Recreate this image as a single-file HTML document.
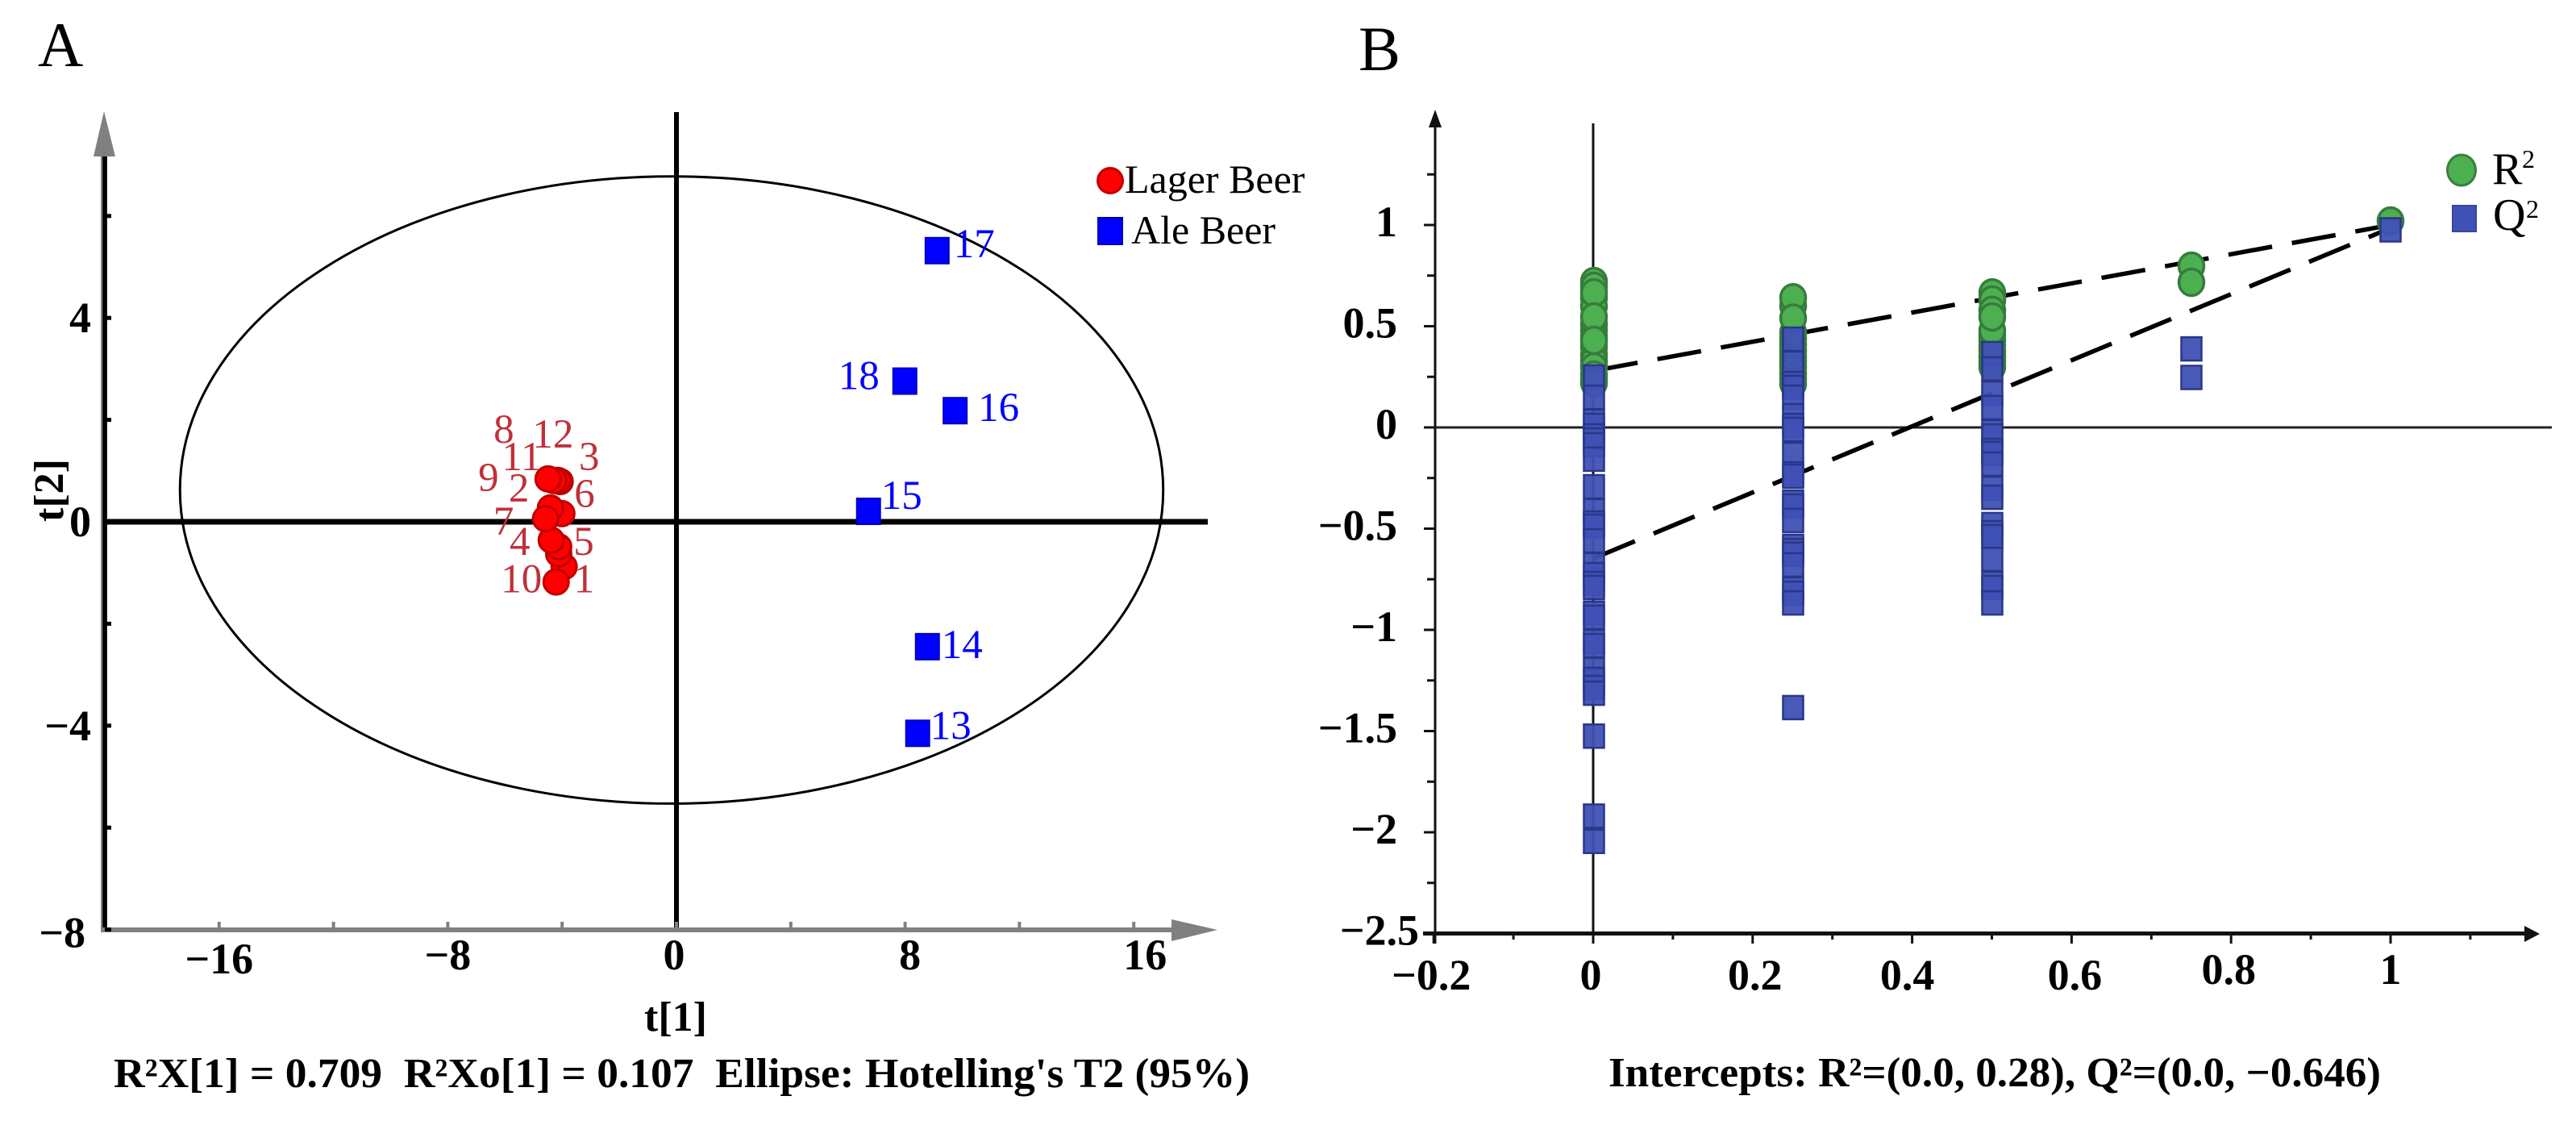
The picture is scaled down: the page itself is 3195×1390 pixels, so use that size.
<!DOCTYPE html>
<html lang="en">
<head>
<meta charset="utf-8">
<title>OPLS-DA score plot and permutation test</title>
<style>
html,body{margin:0;padding:0;background:#fff;}
svg{display:block;}
text{font-family:"Liberation Serif",serif;}
.tick{font-weight:bold;font-size:54px;fill:#000;}
.foot{font-weight:bold;font-size:52px;fill:#000;}
.leg{font-size:50px;fill:#000;}
</style>
</head>
<body>
<svg id="chart" xmlns="http://www.w3.org/2000/svg" width="3195" height="1390" viewBox="0 0 3195 1390">
  <rect width="3195" height="1390" fill="#fff"/>
  <text x="47" y="82" font-size="78">A</text>
  <text x="1685" y="87" font-size="78">B</text>

  <g id="panelA"></g>
  <g id="panelB"></g>

  <text class="foot" x="838" y="1278" text-anchor="middle">t[1]</text>
  <text class="foot" transform="translate(78,608) rotate(-90)" text-anchor="middle">t[2]</text>
  <text class="foot" x="141" y="1348" textLength="1409" lengthAdjust="spacingAndGlyphs">R²X[1] = 0.709&#160; R²Xo[1] = 0.107&#160; Ellipse: Hotelling's T2 (95%)</text>
  <text class="foot" x="1995" y="1347" textLength="958" lengthAdjust="spacingAndGlyphs">Intercepts: R²=(0.0, 0.28), Q²=(0.0, −0.646)</text>

  <g>
    <circle cx="1377" cy="224" r="15.5" fill="#f00" stroke="#c00000" stroke-width="3"/>
    <text class="leg" x="1395" y="239">Lager Beer</text>
    <rect x="1362" y="270" width="30" height="33" fill="#00f" stroke="#0000c0" stroke-width="2"/>
    <text class="leg" x="1403" y="302">Ale Beer</text>
  </g>
  <g>
    <ellipse cx="3053" cy="211" rx="17.5" ry="19" fill="#4CAF50" stroke="#388040" stroke-width="3"/>
    <text class="leg" x="3091" y="228" style="font-size:56px">R</text>
    <text x="3128" y="208" font-size="32">2</text>
    <rect x="3042" y="255" width="29" height="32" fill="#3F51B5" stroke="#3545a0" stroke-width="2"/>
    <text class="leg" x="3092" y="285" style="font-size:56px">Q</text>
    <text x="3133" y="270" font-size="32">2</text>
  </g>
</svg>
<script>
// ---- Panel A data ----
const lagerLabels = [1, 6, 5, 4, 10, 9, 2, 7, 3, 12, 11, 8];
const lagerT1 = [-3.93, -4.12, -4.12, -4.38, -4.21, -4.01, -4.41, -4.58, -4.07, -4.15, -4.29, -4.49];
const lagerT2 = [-0.88, -0.63, -0.49, -0.36, -1.18, 0.16, 0.27, 0.06, 0.79, 0.81, 0.81, 0.84];
const aleLabels = [13, 14, 15, 16, 17, 18];
const aleT1 = [8.44, 8.78, 6.72, 9.75, 9.12, 7.99];
const aleT2 = [-4.15, -2.45, 0.205, 2.18, 5.32, 2.76];
const ellipseCenter = [-0.17, 0.624];
const ellipseRadii = [17.2, 6.153];
const xTicksA = [-16, -12, -8, -4, 0, 4, 8, 12, 16];
const xTickLabelsA = [-16, -8, 0, 8, 16];
const yTicksA = [-8, -6, -4, -2, 0, 2, 4, 6];
const yTickLabelsA = [-8, -4, 0, 4];

// ---- Panel B data ----
const r2At0 = [0.721, 0.697, 0.64, 0.598, 0.51, 0.478, 0.45, 0.398, 0.359, 0.33, 0.299, 0.259, 0.235, 0.219, 0.665, 0.546, 0.430];
const r2At25 = [0.215, 0.239, 0.265, 0.30, 0.325, 0.35, 0.38, 0.41, 0.44, 0.47, 0.60, 0.641, 0.54];
const r2At50 = [0.299, 0.325, 0.35, 0.378, 0.405, 0.43, 0.455, 0.478, 0.665, 0.63, 0.578, 0.546];
const r2At75 = [0.797, 0.717];
const r2At100 = [1.02];
const q2At0 = [0.249, 0.149, 0.030, 0.010, -0.042, -0.062, -0.086, -0.157, -0.293, -0.412, -0.472, -0.488, -0.560, -0.679, -0.727, -0.771, -0.791, -0.918, -0.938, -1.058, -1.078, -1.197, -1.245, -1.285, -1.313, -1.525, -1.92, -2.045];
const q2At25 = [0.436, 0.317, 0.217, 0.197, 0.149, 0.058, 0.010, -0.010, -0.133, -0.229, -0.241, -0.369, -0.388, -0.460, -0.588, -0.608, -0.627, -0.679, -0.799, -0.819, -0.867, -1.384];
const q2At50 = [0.365, 0.289, 0.169, 0.098, -0.022, -0.042, -0.114, -0.129, -0.181, -0.301, -0.345, -0.480, -0.520, -0.540, -0.651, -0.771, -0.791, -0.867];
const q2At75 = [0.388, 0.247];
const q2At100 = [0.976];
const r2Columns = [0, 0.25, 0.5, 0.75, 1];
const r2FitEnds = [0.28, 1.0];
const q2FitEnds = [-0.646, 0.985];
const fitX = [0, 1];
const xTicksB = [-0.2, -0.1, 0, 0.1, 0.2, 0.3, 0.4, 0.5, 0.6, 0.7, 0.8, 0.9, 1, 1.1];
const xTickLabelsB = [-0.2, 0, 0.2, 0.4, 0.6, 0.8, 1];
const yTicksB = [-2.5, -2.25, -2, -1.75, -1.5, -1.25, -1, -0.75, -0.5, -0.25, 0, 0.25, 0.5, 0.75, 1, 1.25];
const yTickLabelsB = [-2.5, -2, -1.5, -1, -0.5, 0, 0.5, 1];

const NS = 'http://www.w3.org/2000/svg';
function make(parent, tag, props, txt) {
  const e = document.createElementNS(NS, tag);
  for (const k in props) e.setAttribute(k, props[k]);
  if (txt !== undefined) e.textContent = txt;
  parent.appendChild(e);
  return e;
}
function fmt(v) { return (v < 0 ? '\u2212' : '') + Math.abs(v); }

// ---- axis functions ----
const xA = v => 839 + 35.45 * v;
const yA = v => 647 - 63.2 * v;
const xB = v => 1977 + 988 * v;
const yB = v => 530 - 251 * v;

function drawPanelA() {
  const g = document.getElementById('panelA');
  const ell = make(g, 'ellipse', {cx: xA(ellipseCenter[0]), cy: yA(ellipseCenter[1]), rx: 35.45 * ellipseRadii[0], ry: 63.2 * ellipseRadii[1], fill: 'none', stroke: '#000', 'stroke-width': 3});
  
  

  const h0 = make(g, 'line', {x1: 131, x2: 1498, y1: yA(0), y2: yA(0), stroke: '#000', 'stroke-width': 7});
  
  
  const v0 = make(g, 'line', {x1: xA(0), x2: xA(0), y1: 139, y2: 1150, stroke: '#000', 'stroke-width': 6});
  
  

  const yAxisHalo = make(g, 'line', {x1: 129, x2: 129, y1: 190, y2: 1156, stroke: '#808080', 'stroke-width': 8});
  
  
  const yAxis = make(g, 'line', {x1: 130, x2: 130, y1: 190, y2: 1156, stroke: '#000', 'stroke-width': 5.5});
  
  
  const yArrow = make(g, 'path', {d: 'M129 138 L116 194 L143 194 Z', fill: '#808080'});
  
  

  const xAxis = make(g, 'line', {x1: 126, x2: 1456, y1: 1153, y2: 1153, stroke: '#808080', 'stroke-width': 6});
  
  
  const xArrow = make(g, 'path', {d: 'M1510 1153 L1453 1140 L1453 1167 Z', fill: '#808080'});
  
  

  xTicksA.forEach(t => {
    const tk = make(g, 'line', {x1: xA(t), x2: xA(t), y1: 1143, y2: 1152, stroke: '#808080', 'stroke-width': 4});
    
    
  });
  yTicksA.forEach(t => {
    const tk = make(g, 'line', {x1: 130, x2: 138, y1: yA(t), y2: yA(t), stroke: '#000', 'stroke-width': 5});
    
    
  });
  xTickLabelsA.forEach(t => {
    const nudge = t === 16 ? 14 : t === 8 ? 6 : t === 0 ? -3 : 0;
    const lb = make(g, 'text', {class: 'tick', x: xA(t) + nudge, y: t === -16 ? 1207 : 1202, 'text-anchor': 'middle'}, fmt(t));
    
    
  });
  yTickLabelsA.forEach(t => {
    const lb = make(g, 'text', {class: 'tick', x: t === -8 ? 106 : 113, y: yA(t) + (t === -8 ? 22 : 18), 'text-anchor': 'end'}, fmt(t));
    
    
  });

  // Ale beer samples
  const aleNudge = {13: [41, 7], 14: [43, 14], 15: [41, -3], 16: [54, 13], 17: [46, 8], 18: [-57, 10]};
  aleLabels.forEach((id, i) => {
    const cx = xA(aleT1[i]), cy = yA(aleT2[i]);
    const m = make(g, 'rect', {x: cx - 14.5, y: cy - 16, width: 29, height: 32, fill: '#00f', stroke: '#0000c0', 'stroke-width': 2});
    
    
    const lb = make(g, 'text', {x: cx + aleNudge[id][0], y: cy + aleNudge[id][1], 'text-anchor': 'middle', 'font-size': 51, fill: '#0000ff'}, id);
    
    
  });

  // Lager beer samples
  const lagerNudge = {1: [25, 32], 2: [-39, -8], 3: [36, -14], 4: [-39, 18], 5: [31, 10], 6: [32, -58], 7: [-52, 20], 8: [-55, -45], 9: [-91, -28], 10: [-43, 13], 11: [-40, -13], 12: [-6, -41]};
  lagerLabels.forEach((id, i) => {
    const cx = xA(lagerT1[i]), cy = yA(lagerT2[i]);
    const m = make(g, 'circle', {cx: cx, cy: cy, r: 15.5, fill: '#f00', stroke: '#c00000', 'stroke-width': 3});
    
    
    const lb = make(g, 'text', {x: cx + lagerNudge[id][0], y: cy + lagerNudge[id][1], 'text-anchor': 'middle', 'font-size': 51, fill: '#c0303a'}, id);
    
    
  });
}

function drawPanelB() {
  const g = document.getElementById('panelB');
  const yAxis = make(g, 'line', {x1: 1780, x2: 1780, y1: 150, y2: 1170, stroke: '#111', 'stroke-width': 3});
  
  
  const yArrow = make(g, 'path', {d: 'M1780 136 L1772 158 L1788 158 Z', fill: '#111'});
  
  
  const xAxis = make(g, 'line', {x1: 1765, x2: 3135, y1: yB(-2.5), y2: yB(-2.5), stroke: '#111', 'stroke-width': 5});
  
  
  const xArrow = make(g, 'path', {d: 'M3150 1158 L3131 1148 L3131 1168 Z', fill: '#111'});
  
  
  const v0 = make(g, 'line', {x1: 1976, x2: 1976, y1: 153, y2: 1158, stroke: '#111', 'stroke-width': 3});
  
  
  const h0 = make(g, 'line', {x1: 1778, x2: 3165, y1: yB(0), y2: yB(0), stroke: '#222', 'stroke-width': 3});
  
  

  xTicksB.forEach((t, i) => {
    const major = i % 2 === 0;
    const tk = make(g, 'line', {x1: 1976 + 989 * t, x2: 1976 + 989 * t, y1: 1158, y2: major ? 1170 : 1165, stroke: '#111', 'stroke-width': 3});
    
    
  });
  yTicksB.forEach((t, i) => {
    const major = i % 2 === 0;
    const tk = make(g, 'line', {x1: major ? 1766 : 1770, x2: 1780, y1: yB(t), y2: yB(t), stroke: '#111', 'stroke-width': 3});
    
    
  });
  xTickLabelsB.forEach(t => {
    const nudge = t === -0.2 ? -3 : t === 0 ? -3 : t === 0.2 ? 3 : t === 0.4 ? -6 : t === 0.6 ? 4 : t === 0.8 ? -3 : 0;
    const lb = make(g, 'text', {class: 'tick', x: 1976 + 989 * t + nudge, y: t >= 0.8 ? 1220 : 1227, 'text-anchor': 'middle'}, fmt(t));
    
    
  });
  yTickLabelsB.forEach(t => {
    const lb = make(g, 'text', {class: 'tick', x: t === -2.5 ? 1760 : 1733, y: yB(t) + 14, 'text-anchor': 'end'}, fmt(t));
    
    
  });

  const r2Fit = make(g, 'line', {x1: xB(fitX[0]), y1: yB(r2FitEnds[0]), x2: xB(fitX[1]), y2: yB(r2FitEnds[1]), stroke: '#000', 'stroke-width': 5.5, 'stroke-dasharray': '55 25'});
  
  
  const q2Fit = make(g, 'line', {x1: xB(fitX[0]), y1: yB(q2FitEnds[0]), x2: xB(fitX[1]), y2: yB(q2FitEnds[1]), stroke: '#000', 'stroke-width': 5.5, 'stroke-dasharray': '55 25'});
  
  

  [r2At0, r2At25, r2At50, r2At75, r2At100].forEach((vals, c) => {
    vals.forEach(v => {
      const m = make(g, 'ellipse', {cx: xB(r2Columns[c]), cy: yB(v), rx: 15.5, ry: 16.5, fill: '#4CAF50', stroke: '#367c3c', 'stroke-width': 3.5});
      
      
    });
  });
  [q2At0, q2At25, q2At50, q2At75, q2At100].forEach((vals, c) => {
    vals.forEach(v => {
      const m = make(g, 'rect', {x: xB(r2Columns[c]) - 12.5, y: yB(v) - 14.5, width: 25, height: 29, fill: '#3F51B5', 'fill-opacity': 0.95, stroke: '#2a3688', 'stroke-width': 2.5});
      
      
    });
  });
}

drawPanelA();
drawPanelB();
</script>
</body>
</html>
